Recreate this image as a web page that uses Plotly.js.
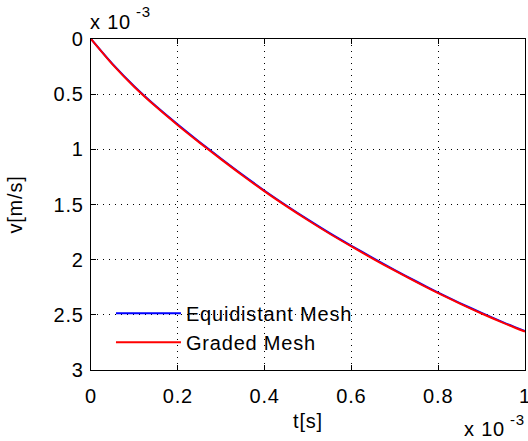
<!DOCTYPE html>
<html>
<head>
<meta charset="utf-8">
<script src="https://cdn.plot.ly/plotly-3.0.1.min.js"></script>
<style>
html,body{margin:0;padding:0;background:#fff;}
#chart{width:528px;height:441px;}
svg text{letter-spacing:0.8px;}
</style>
</head>
<body>
<div id="chart"></div>
<script>
// time in units of 1e-3 s
var tValues = [0, 0.05, 0.1, 0.15, 0.2, 0.25, 0.3, 0.35, 0.4, 0.45, 0.5, 0.55, 0.6, 0.65, 0.7, 0.75, 0.8, 0.85, 0.9, 0.95, 1.0];
// velocity in units of 1e-3 m/s
var vEquidistant = [0, 0.228, 0.43, 0.61, 0.775, 0.933, 1.085, 1.233, 1.375, 1.509, 1.637, 1.759, 1.874, 1.986, 2.094, 2.198, 2.298, 2.393, 2.483, 2.568, 2.648];
var vGraded = [0, 0.232, 0.435, 0.615, 0.781, 0.939, 1.091, 1.239, 1.381, 1.515, 1.643, 1.765, 1.88, 1.992, 2.1, 2.204, 2.304, 2.398, 2.488, 2.573, 2.652];
var seriesNames = ['Equidistant Mesh', 'Graded Mesh'];
var xTicks = [0, 0.2, 0.4, 0.6, 0.8, 1];
var xTickText = ['0', '0.2', '0.4', '0.6', '0.8', '1'];
var yTicks = [0, 0.5, 1, 1.5, 2, 2.5, 3];
var yTickText = ['0', '0.5', '1', '1.5', '2', '2.5', '3'];
var exponentText = ['x 10', '-3'];

var font = 'Liberation Sans, Arial, Helvetica, sans-serif';
var fs = 20;

var traces = [
  {x: tValues, y: vEquidistant, type: 'scatter', mode: 'lines', name: seriesNames[0],
   line: {color: '#0000ff', width: 2, shape: 'spline', smoothing: 0.8}},
  {x: tValues, y: vGraded, type: 'scatter', mode: 'lines', name: seriesNames[1],
   line: {color: '#ff0000', width: 2, shape: 'spline', smoothing: 0.8}}
];

var axisCommon = {
  automargin: false,
  showline: true, linecolor: '#000', linewidth: 1.3, mirror: 'ticks',
  ticks: 'inside', ticklen: 5, tickwidth: 1, tickcolor: '#000',
  showgrid: true, gridcolor: '#000', gridwidth: 1, griddash: '1px,5px',
  zeroline: false, ticklabeloverflow: 'allow',
  tickfont: {family: font, size: fs, color: '#000'}
};

var layout = {
  width: 528, height: 441,
  margin: {l: 91, r: 3, t: 39, b: 71},
  paper_bgcolor: '#fff', plot_bgcolor: '#fff',
  font: {family: font, size: fs, color: '#000'},
  xaxis: Object.assign({}, axisCommon, {
    range: [0, 1], tickmode: 'array', tickvals: xTicks, ticktext: xTickText,
    ticklabelstandoff: 8,
    title: {text: 't[s]', font: {family: font, size: fs, color: '#000'}, standoff: 7}
  }),
  yaxis: Object.assign({}, axisCommon, {
    range: [3, 0], tickmode: 'array', tickvals: yTicks, ticktext: yTickText,
    ticklabelstandoff: 2,
    title: {text: 'v[m/s]', font: {family: font, size: fs, color: '#000'}, standoff: 25}
  }),
  showlegend: true,
  legend: {
    x: 0.046, y: 0.23, xanchor: 'left', yanchor: 'top',
    bgcolor: 'rgba(0,0,0,0)', borderwidth: 0,
    font: {family: font, size: fs, color: '#000'},
    itemwidth: 65, tracegroupgap: 0
  },
  annotations: [
    {xref: 'paper', yref: 'paper', x: 0, y: 1, xanchor: 'left', yanchor: 'bottom',
     yshift: 4, xshift: -3, showarrow: false, text: exponentText[0], font: {family: font, size: fs, color: '#000'}},
    {xref: 'paper', yref: 'paper', x: 0, y: 1, xanchor: 'left', yanchor: 'bottom',
     yshift: 17, xshift: 43, showarrow: false, text: exponentText[1], font: {family: font, size: 15, color: '#000'}},
    {xref: 'paper', yref: 'paper', x: 1, y: 0, xanchor: 'right', yanchor: 'top',
     yshift: -46, xshift: -18, showarrow: false, text: exponentText[0], font: {family: font, size: fs, color: '#000'}},
    {xref: 'paper', yref: 'paper', x: 1, y: 0, xanchor: 'right', yanchor: 'top',
     yshift: -39, xshift: 2, showarrow: false, text: exponentText[1], font: {family: font, size: 15, color: '#000'}}
  ]
};

Plotly.newPlot('chart', traces, layout, {displayModeBar: false, staticPlot: true});
</script>
</body>
</html>
